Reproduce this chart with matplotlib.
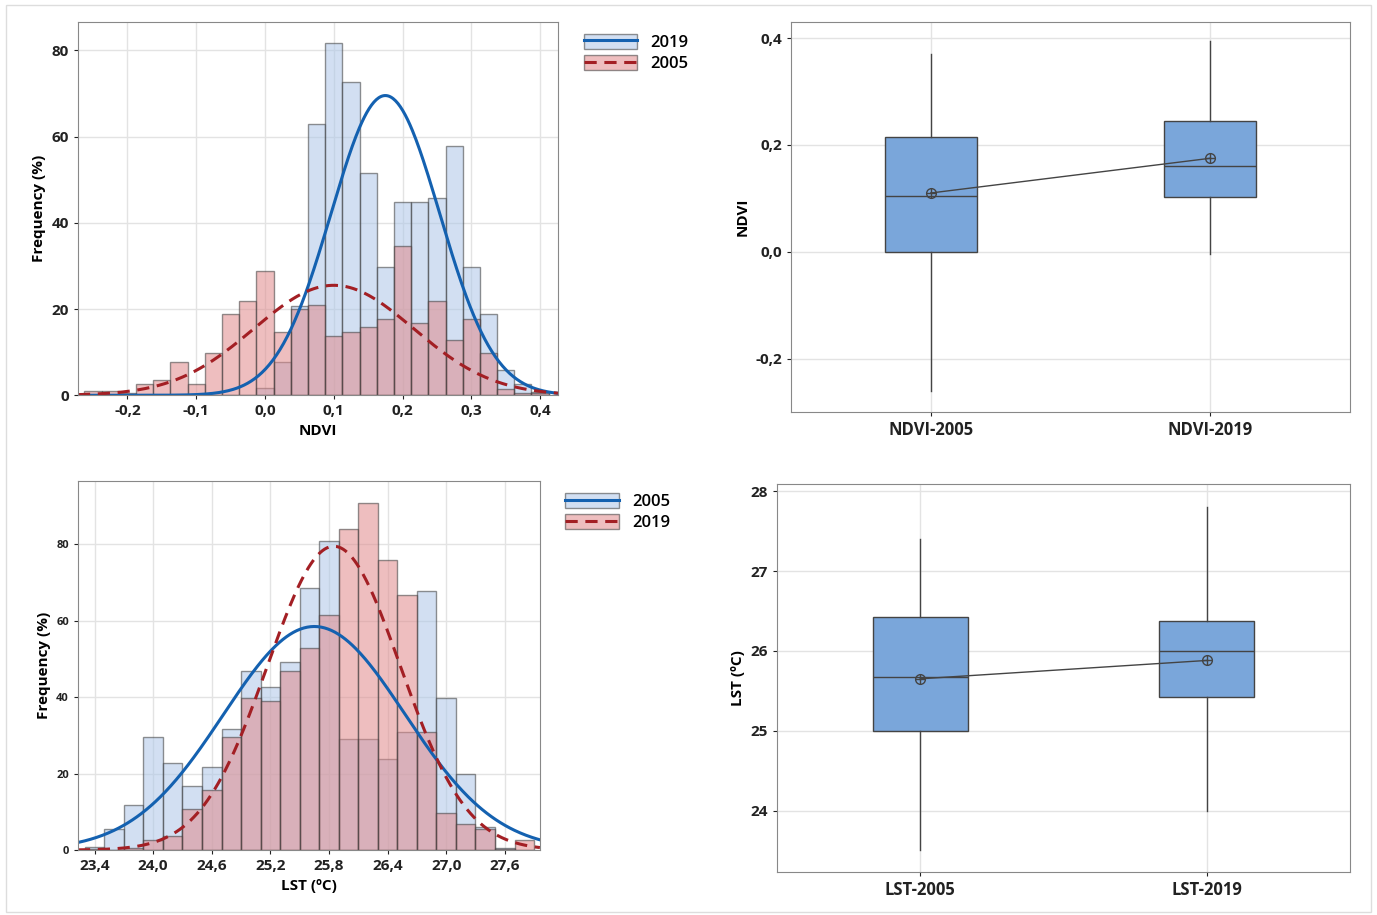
import numpy as np
import matplotlib.pyplot as plt
from matplotlib.patches import Patch, Rectangle
from matplotlib.lines import Line2D
from matplotlib.ticker import FuncFormatter

plt.rcParams['font.family'] = ['Open Sans', 'DejaVu Sans']
plt.rcParams['font.weight'] = 'bold'
plt.rcParams['axes.labelweight'] = 'bold'

# ---- NDVI histogram data (bin centres, frequency %) ----
ndvi_centers = np.round(np.arange(-0.25, 0.401, 0.025), 3)
ndvi_2005 = [1, 1, 0.5, 2.7, 3.6, 7.7, 2.7, 9.8, 18.8, 21.8, 28.8, 14.7, 19.9, 20.9,
             13.7, 14.7, 15.8, 17.8, 34.6, 16.8, 21.9, 12.8, 17.8, 9.8, 1.5, 0.5, 0.5]
ndvi_2019 = [0, 0, 0, 0, 0, 0, 0, 0, 0, 0, 1.7, 7.7, 20.6, 62.8,
             81.7, 72.6, 51.6, 29.8, 44.8, 44.8, 45.8, 57.7, 29.8, 18.8, 5.8, 2.6, 0.8]
ndvi_fit = {'2019': (0.175, 0.079, 69.5), '2005': (0.10, 0.116, 25.5)}

# ---- LST histogram data ----
lst_centers = np.round(np.arange(23.4, 27.81, 0.2), 2)
lst_2005 = [0.8, 5.6, 11.8, 29.7, 22.8, 16.8, 21.8, 31.6, 46.9, 42.6, 49.1, 68.6,
            80.8, 29.0, 29.0, 23.8, 30.8, 67.9, 39.7, 19.8, 5.9, 0.6, 0]
lst_2019 = [0.3, 0, 0.6, 2.6, 3.7, 10.7, 15.6, 29.7, 39.8, 38.9, 46.8, 52.9,
            61.6, 83.9, 90.8, 75.8, 66.8, 30.9, 9.8, 6.9, 5.4, 0.3, 2.5]
lst_fit = {'2005': (25.65, 0.93, 58.5), '2019': (25.85, 0.68, 79.5)}

# ---- boxplot stats: whislo, q1, med, q3, whishi, mean ----
ndvi_box_labels = ['NDVI-2005', 'NDVI-2019']
ndvi_box = [(-0.26, 0.0, 0.105, 0.215, 0.37, 0.11),
            (-0.005, 0.103, 0.16, 0.245, 0.395, 0.175)]
lst_box_labels = ['LST-2005', 'LST-2019']
lst_box = [(23.5, 25.0, 25.67, 26.42, 27.4, 25.65),
           (24.0, 25.42, 26.0, 26.38, 27.8, 25.88)]

BLUE_FACE = '#aec6e8'
RED_FACE = '#e08a8c'
BLUE_LINE = '#1461b0'
RED_LINE = '#a31f24'
EDGE = '#3a3a3a'
GRID = '#e3e3e3'

comma = FuncFormatter(lambda v, p: ('%.1f' % v).replace('.', ','))
comma0 = FuncFormatter(lambda v, p: '%d' % v)


def style(ax):
    ax.grid(True, color=GRID, lw=1)
    ax.set_axisbelow(True)
    for s in ax.spines.values():
        s.set_color('#888888')
    ax.tick_params(colors='#222222', length=3)


def hist_panel(ax, centers, first, second, fit, names, width, xr):
    style(ax)
    ax.bar(centers, first, width=width, color=BLUE_FACE, alpha=0.55, edgecolor=EDGE, lw=1)
    ax.bar(centers, second, width=width, color=RED_FACE, alpha=0.55, edgecolor=EDGE, lw=1)
    x = np.linspace(xr[0], xr[1], 400)
    m, s, h = fit[names[0]]
    ax.plot(x, h * np.exp(-(x - m) ** 2 / (2 * s * s)), color=BLUE_LINE, lw=2.2)
    m, s, h = fit[names[1]]
    ax.plot(x, h * np.exp(-(x - m) ** 2 / (2 * s * s)), color=RED_LINE, lw=2.2, ls=(0, (4, 2.5)))
    ax.set_xlim(*xr)
    ax.xaxis.set_major_formatter(comma)
    ax.set_ylabel('Frequency (%)', fontsize=11)
    h1 = (Patch(facecolor=BLUE_FACE, edgecolor=EDGE, alpha=0.55), Line2D([], [], color=BLUE_LINE, lw=2.2))
    h2 = (Patch(facecolor=RED_FACE, edgecolor=EDGE, alpha=0.55), Line2D([], [], color=RED_LINE, lw=2.2, ls=(0, (4, 2.5))))
    ax.legend([h1, h2], names, loc='upper left', bbox_to_anchor=(1.03, 1.0), frameon=False,
              prop=dict(size=12, weight='semibold'), handlelength=3.2, handleheight=1.0,
              borderaxespad=0.3, labelspacing=0.25)


def box_panel(ax, labels, stats, ylabel, yr, ticks, fmt):
    style(ax)
    bx = [dict(whislo=a, q1=b, med=c, q3=d, whishi=e, mean=f, label=l)
          for (a, b, c, d, e, f), l in zip(stats, labels)]
    ax.bxp(bx, positions=[1, 2], widths=0.33, showfliers=False, showcaps=False, patch_artist=True,
           boxprops=dict(facecolor='#7aa6da', edgecolor='#444444', lw=1),
           medianprops=dict(color='#444444', lw=1), whiskerprops=dict(color='#444444', lw=1))
    means = [s[5] for s in stats]
    ax.plot([1, 2], means, color='#444444', lw=1, marker='o', ms=7, mfc='none', mec='#444444')
    ax.plot([1, 2], means, ls='none', marker='+', ms=7, color='#444444')
    ax.set_xlim(0.5, 2.5)
    ax.set_ylim(*yr)
    ax.set_yticks(ticks)
    ax.yaxis.set_major_formatter(fmt)
    ax.set_ylabel(ylabel, fontsize=11)
    ax.tick_params(axis='x', labelsize=12)
    ax.tick_params(axis='y', labelsize=11)


fig = plt.figure(figsize=(13.77, 9.15), dpi=100)
fig.patches.append(Rectangle((0.004, 0.003), 0.992, 0.992, transform=fig.transFigure,
                             fill=False, ec='#dddddd', lw=1))

ax1 = fig.add_axes([0.0566, 0.568, 0.3486, 0.4077])
hist_panel(ax1, ndvi_centers, ndvi_2019, ndvi_2005, ndvi_fit, ['2019', '2005'], 0.025, (-0.272, 0.426))
ax1.set_yticks([0, 20, 40, 60, 80])
ax1.yaxis.set_major_formatter(comma0)
ax1.set_ylim(0, 86.5)
ax1.set_xticks([-0.2, -0.1, 0, 0.1, 0.2, 0.3, 0.4])
ax1.tick_params(labelsize=11)
ax1.set_xlabel('NDVI', fontsize=11)

ax3 = fig.add_axes([0.0566, 0.071, 0.3355, 0.403])
hist_panel(ax3, lst_centers, lst_2005, lst_2019, lst_fit, ['2005', '2019'], 0.2, (23.23, 27.96))
ax3.set_yticks([0, 20, 40, 60, 80])
ax3.yaxis.set_major_formatter(comma0)
ax3.set_ylim(0, 96.5)
ax3.set_xticks(np.round(np.arange(23.4, 27.7, 0.6), 1))
ax3.tick_params(axis='x', labelsize=11)
ax3.tick_params(axis='y', labelsize=8)
ax3.set_xlabel('LST (ºC)', fontsize=11)

ax2 = fig.add_axes([0.5744, 0.5497, 0.406, 0.4262])
box_panel(ax2, ndvi_box_labels, ndvi_box, 'NDVI', (-0.30, 0.43), [-0.2, 0, 0.2, 0.4], comma)

ax4 = fig.add_axes([0.5643, 0.047, 0.416, 0.424])
box_panel(ax4, lst_box_labels, lst_box, 'LST (ºC)', (23.23, 28.09), [24, 25, 26, 27, 28], comma0)

fig.savefig('out.png', dpi=100)
